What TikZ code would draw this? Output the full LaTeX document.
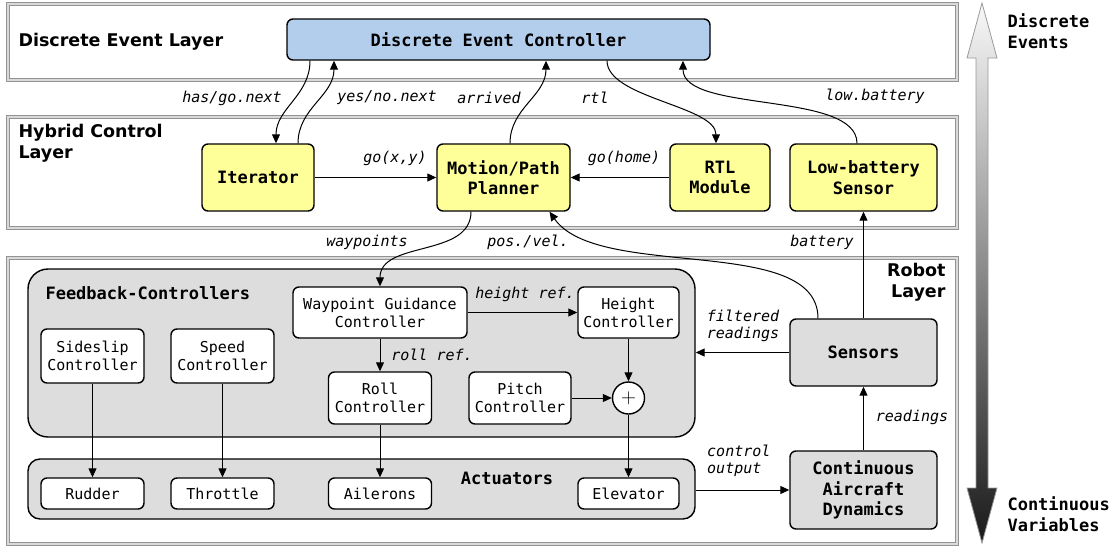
\documentclass[tikz,border=0pt]{standalone}
\usepackage{fontspec}
\setmonofont{DejaVu Sans Mono}
\setsansfont{DejaVu Sans}
\usepackage{tikz}
\usetikzlibrary{arrows.meta}

\definecolor{decblue}{HTML}{B3CEEC}
\definecolor{hybyellow}{HTML}{FFFF99}
\definecolor{ctrlgrey}{HTML}{DDDDDD}

\newcommand{\blkfont}{\fontsize{15}{18}\selectfont\ttfamily}
\newcommand{\hdfont}{\fontsize{17}{20.5}\selectfont\ttfamily\bfseries}
\newcommand{\edgfont}{\fontsize{15}{17}\selectfont\ttfamily\itshape}
\newcommand{\lyrfont}{\fontsize{17.5}{21}\selectfont\sffamily\bfseries}

\begin{document}
\begin{tikzpicture}[x=1pt, y=-1pt,
  layerbox/.style={draw=gray!85, line width=1pt, double=gray!30, double distance=1.2pt, inner sep=0pt, outer sep=0pt},
  ctrlarea/.style={draw, fill=ctrlgrey, line width=1.4pt, inner sep=0pt},
  block/.style={draw, line width=1.4pt, rounded corners=6pt, fill=white, inner sep=0pt, align=center, font=\blkfont},
  bigblock/.style={block, font=\hdfont},
  lbl/.style={font=\edgfont, inner sep=1pt},
  arr/.style={-{Triangle[length=9pt,width=8pt]}, line width=1pt}]
  \useasboundingbox (0,0) rectangle (1111,546);

  % layers
  \node (dlayer) [layerbox, minimum width=949pt, minimum height=76pt] at (482.5,42) {};
  \node (hlayer) [layerbox, minimum width=949pt, minimum height=111pt] at (482.5,172.5) {};
  \node (rlayer) [layerbox, minimum width=949pt, minimum height=286pt] at (482.5,401) {};
  \node (dtitle) [anchor=west, font=\lyrfont] at (15,42) {Discrete Event Layer};
  \node (htitle) [anchor=west, align=left, font=\lyrfont] at (15,143) {Hybrid Control\\Layer};
  \node (rtitle) [anchor=east, align=right, font=\lyrfont] at (949,282) {Robot\\Layer};

  % discrete event layer
  \node (dec) [bigblock, fill=decblue, minimum width=423pt, minimum height=41pt] at (498.5,39.5) {Discrete Event Controller};

  % hybrid control layer
  \node (iter) [bigblock, fill=hybyellow, minimum width=112pt, minimum height=67pt] at (258,177.5) {Iterator};
  \node (mpp) [bigblock, fill=hybyellow, minimum width=133pt, minimum height=67pt] at (503.5,177.5) {Motion/Path\\Planner};
  \node (rtl) [bigblock, fill=hybyellow, minimum width=100pt, minimum height=67pt] at (720,177.5) {RTL\\Module};
  \node (lowbat) [bigblock, fill=hybyellow, minimum width=147pt, minimum height=67pt] at (863.5,177.5) {Low-battery\\Sensor};

  % robot layer
  \node (fbc) [ctrlarea, rounded corners=20pt, minimum width=667pt, minimum height=168pt] at (361.5,353) {};
  \node (fbctitle) [anchor=west, font=\hdfont] at (42,293) {Feedback-Controllers};
  \node (act) [ctrlarea, rounded corners=12pt, minimum width=667pt, minimum height=60pt] at (361.5,489) {};
  \node (acttitle) [font=\hdfont] at (507,478) {Actuators};

  \node (wgc) [block, minimum width=174pt, minimum height=51pt] at (380,312.5) {Waypoint Guidance\\Controller};
  \node (height) [block, minimum width=101pt, minimum height=51pt] at (628.5,312.5) {Height\\Controller};
  \node (sideslip) [block, minimum width=103pt, minimum height=54pt] at (92.5,356) {Sideslip\\Controller};
  \node (speed) [block, minimum width=103pt, minimum height=54pt] at (222.5,356) {Speed\\Controller};
  \node (roll) [block, minimum width=103pt, minimum height=52pt] at (380,398) {Roll\\Controller};
  \node (pitch) [block, minimum width=102pt, minimum height=52pt] at (520,398) {Pitch\\Controller};
  \node (sum) [draw, circle, fill=white, line width=1.4pt, minimum size=32pt, inner sep=0pt, font=\fontsize{20}{20}\selectfont] at (628.5,398) {$+$};

  \node (rudder) [block, minimum width=103pt, minimum height=31pt] at (92.5,493.5) {Rudder};
  \node (throttle) [block, minimum width=103pt, minimum height=31pt] at (222.5,493.5) {Throttle};
  \node (ailerons) [block, minimum width=103pt, minimum height=31pt] at (380,493.5) {Ailerons};
  \node (elevator) [block, minimum width=101pt, minimum height=31pt] at (628.5,493.5) {Elevator};

  \node (sensors) [bigblock, fill=ctrlgrey, minimum width=147pt, minimum height=67pt] at (863.5,352.5) {Sensors};
  \node (cad) [bigblock, fill=ctrlgrey, minimum width=147pt, minimum height=78pt] at (863.5,490) {Continuous\\Aircraft\\Dynamics};

  % connections between layers
  \draw[arr] ([xshift=-188.5pt]dec.south) to[out=-90, in=90] ([xshift=18pt]iter.north);
  \draw[arr] ([xshift=40pt]iter.north) to[out=90, in=-90] ([xshift=-164.5pt]dec.south);
  \draw[arr] ([xshift=6.5pt]mpp.north) to[out=90, in=-90] ([xshift=47.5pt]dec.south);
  \draw[arr] ([xshift=108.5pt]dec.south) to[out=-90, in=90, looseness=0.7] ([xshift=-4pt]rtl.north);
  \draw[arr] ([xshift=-6.5pt]lowbat.north) to[out=90, in=-90, looseness=0.7] ([xshift=184.5pt]dec.south);
  \draw[arr] (iter) -- (mpp);
  \draw[arr] (rtl) -- (mpp);
  \draw[arr] ([xshift=-32.5pt]mpp.south) to[out=-90, in=90] (wgc.north);
  \draw[arr] ([xshift=-45.5pt]sensors.north) to[out=90, in=-55, looseness=0.75] ([xshift=46pt]mpp.south);
  \draw[arr] (sensors.north) -- (lowbat.south);

  % connections in the robot layer
  \draw[arr] (wgc) -- (height);
  \draw[arr] (wgc) -- (roll);
  \draw[arr] (height) -- (sum);
  \draw[arr] (pitch) -- (sum);
  \draw[arr] (sum) -- (elevator);
  \draw[arr] (sideslip) -- (rudder);
  \draw[arr] (speed) -- (throttle);
  \draw[arr] (roll) -- (ailerons);
  \draw[arr] (sensors.west) -- (sensors.west -| fbc.east);
  \draw[arr] (cad.west -| act.east) -- (cad.west);
  \draw[arr] (cad) -- (sensors);

  % labels
  \node (l1) [lbl] at (232,98) {has/go.next};
  \node (l2) [lbl] at (387,98) {yes/no.next};
  \node (l3) [lbl] at (489,98) {arrived};
  \node (l4) [lbl] at (595,98) {rtl};
  \node (l5) [lbl] at (875,96) {low.battery};
  \node (l6) [lbl] at (395,158) {go(x,y)};
  \node (l7) [lbl] at (624,158) {go(home)};
  \node (l8) [lbl] at (367,242) {waypoints};
  \node (l9) [lbl] at (528,242) {pos./vel.};
  \node (l10) [lbl] at (822,242) {battery};
  \node (l11) [lbl] at (525,294) {height ref.};
  \node (l12) [lbl] at (432,355) {roll ref.};
  \node (l13) [lbl, align=left] at (743,326) {filtered\\readings};
  \node (l14) [lbl] at (912,417) {readings};
  \node (l15) [lbl, anchor=west, align=left] at (706,461) {control\\output};

  % discrete/continuous scale
  \shade[top color=gray!5, bottom color=black!90, draw=gray!80, line width=0.8pt]
    (982,3) -- (967,58) -- (976,58) -- (976,488) -- (967,488) -- (982,543)
    -- (997,488) -- (988,488) -- (988,58) -- (997,58) -- cycle;
  \node (top) [anchor=west, align=left, font=\hdfont] at (1004,31) {Discrete\\Events};
  \node (bottom) [anchor=west, align=left, font=\hdfont] at (1004,514) {Continuous\\Variables};
\end{tikzpicture}
\end{document}
